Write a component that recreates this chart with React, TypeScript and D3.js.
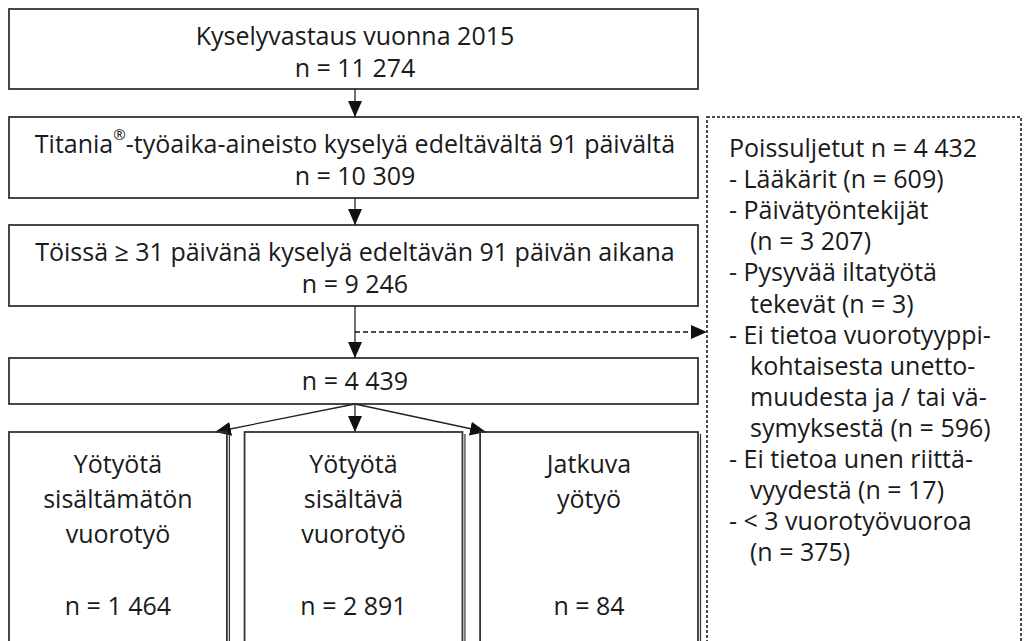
import * as d3 from 'd3';

// stages of the main flow
const stageLabels = [
  'Kyselyvastaus vuonna 2015',
  'Titania®-työaika-aineisto kyselyä edeltävältä 91 päivältä',
  'Töissä ≥ 31 päivänä kyselyä edeltävän 91 päivän aikana',
  '',
];
const stageCounts = ['11 274', '10 309', '9 246', '4 439'];

// final groups
const groupNames = ['sisaltamaton', 'sisaltava', 'jatkuva'];
const groupLabels = [
  ['Yötyötä', 'sisältämätön', 'vuorotyö'],
  ['Yötyötä', 'sisältävä', 'vuorotyö'],
  ['Jatkuva', 'yötyö'],
];
const groupCounts = ['1 464', '2 891', '84'];

// excluded
const excludedTotal = '4 432';
const excludedLines: [string, boolean][] = [
  ['- Lääkärit (n = 609)', false],
  ['- Päivätyöntekijät', false],
  ['(n = 3 207)', true],
  ['- Pysyvää iltatyötä', false],
  ['tekevät (n = 3)', true],
  ['- Ei tietoa vuorotyyppi-', false],
  ['kohtaisesta unetto-', true],
  ['muudesta ja / tai vä-', true],
  ['symyksestä (n = 596)', true],
  ['- Ei tietoa unen riittä-', false],
  ['vyydestä (n = 17)', true],
  ['- < 3 vuorotyövuoroa', false],
  ['(n = 375)', true],
];

const W = 1032;
const H = 641;
const FONT = "'Open Sans', 'Noto Sans', sans-serif";
const FS = 25;
const STROKE = '#333';
const TEXT = '#1a1a1a';

const left = 9;
const right = 698;
const cx = 355;
const stageTop = [9, 117, 225, 358];
const stageH = [80, 81, 81, 46];
const groupTop = 432;

const xGroup = d3.scaleBand<string>().domain(groupNames).range([left, right]).paddingInner(0.075);

const exY = d3
  .scaleLinear()
  .domain([0, 1])
  .range([147, 147 + 31.1]);

function StageText({ i }: { i: number }) {
  const top = stageTop[i];
  const label = stageLabels[i];
  if (!label) {
    return (
      <text x={cx} y={top + stageH[i] / 2 - 1} textAnchor="middle" dominantBaseline="central">
        n = {stageCounts[i]}
      </text>
    );
  }
  const parts = label.split('®');
  return (
    <g>
      <text x={cx} y={top + 26} textAnchor="middle" dominantBaseline="central">
        {parts.length > 1 ? (
          <>
            {parts[0]}
            <tspan fontSize={15} dy={-9}>®</tspan>
            <tspan dy={9}>{parts[1]}</tspan>
          </>
        ) : (
          label
        )}
      </text>
      <text x={cx} y={top + 57.5} textAnchor="middle" dominantBaseline="central">
        n = {stageCounts[i]}
      </text>
    </g>
  );
}

export default function App() {
  const arrowLine = d3.line();
  const targets: [number, number][] = [
    [215, groupTop],
    [cx, groupTop],
    [486, groupTop],
  ];
  return (
    <svg width={W} height={H} style={{ position: 'absolute', left: 0, top: 0, background: '#fff' }}>
      <defs>
        <marker id="ah" viewBox="0 0 16 14" refX={16} refY={7} markerWidth={16} markerHeight={14} markerUnits="userSpaceOnUse" orient="auto">
          <path d="M0,0 L16,7 L0,14 Z" fill="#111" />
        </marker>
      </defs>
      <rect width={W} height={H} fill="#fff" />
      <g fontFamily={FONT} fontSize={FS} fill={TEXT}>
        {stageTop.map((t, i) => (
          <rect key={i} x={left} y={t} width={right - left} height={stageH[i]} fill="none" stroke={STROKE} strokeWidth={1.8} />
        ))}
        {stageTop.map((_, i) => (
          <StageText key={i} i={i} />
        ))}

        {/* vertical arrows */}
        {[0, 1].map((i) => (
          <path
            key={i}
            d={arrowLine([
              [cx, stageTop[i] + stageH[i]],
              [cx, stageTop[i + 1]],
            ])!}
            stroke="#222"
            strokeWidth={1.3}
            markerEnd="url(#ah)"
          />
        ))}
        <path
          d={arrowLine([
            [cx, stageTop[2] + stageH[2]],
            [cx, stageTop[3]],
          ])!}
          stroke="#222"
          strokeWidth={1.3}
          markerEnd="url(#ah)"
        />
        <path
          d={arrowLine([
            [cx, 332],
            [707, 332],
          ])!}
          stroke="#111"
          strokeWidth={1.4}
          strokeDasharray="5 3"
          markerEnd="url(#ah)"
        />
        {targets.map((t, i) => (
          <path
            key={i}
            d={arrowLine([[cx, stageTop[3] + stageH[3]], t])!}
            stroke="#222"
            strokeWidth={1.3}
            markerEnd="url(#ah)"
          />
        ))}

        {/* group boxes */}
        {groupNames.map((g, i) => {
          const x0 = xGroup(g)!;
          const w = xGroup.bandwidth();
          const gx = x0 + w / 2;
          return (
            <g key={g}>
              <rect x={x0} y={groupTop} width={w} height={H + 20 - groupTop} fill="none" stroke={STROKE} strokeWidth={1.8} />
              <line x1={x0 + w + 2.5} x2={x0 + w + 2.5} y1={groupTop + 2} y2={H} stroke={STROKE} strokeWidth={1.2} />
              {groupLabels[i].map((l, j) => (
                <text key={j} x={gx} y={463 + j * 35.2} textAnchor="middle" dominantBaseline="central">
                  {l}
                </text>
              ))}
              <text x={gx} y={605} textAnchor="middle" dominantBaseline="central">
                n = {groupCounts[i]}
              </text>
            </g>
          );
        })}

        {/* excluded box */}
        <rect x={707} y={117} width={314} height={H + 20 - 117} fill="none" stroke="#111" strokeWidth={1.5} strokeDasharray="3 2" />
        <text x={729} y={exY(0)} dominantBaseline="central">
          Poissuljetut n = {excludedTotal}
        </text>
        {excludedLines.map(([l, indent], j) => (
          <text key={j} x={indent ? 750 : 729} y={exY(j + 1)} dominantBaseline="central">
            {l}
          </text>
        ))}
      </g>
    </svg>
  );
}
